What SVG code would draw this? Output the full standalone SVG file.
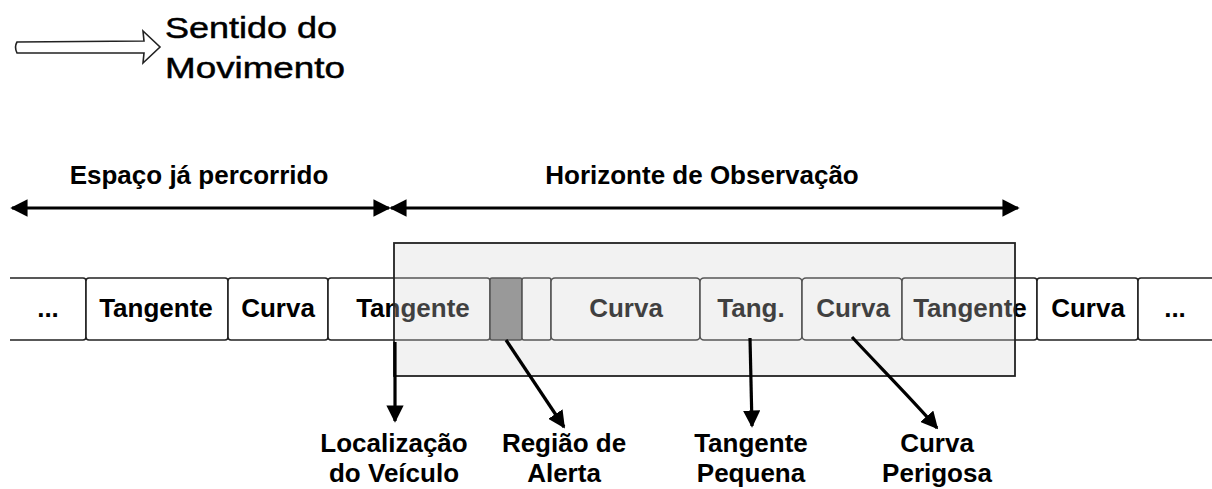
<svg xmlns="http://www.w3.org/2000/svg" width="1212" height="489" viewBox="0 0 1212 489">
<style>
.t{font-family:"Liberation Sans",Arial,sans-serif;font-weight:bold;font-size:26px;fill:#000;text-anchor:middle}
.h{font-family:"Liberation Sans",Arial,sans-serif;font-size:30px;fill:#000;stroke:#000;stroke-width:0.5}
.cell{fill:#fff;stroke:#222;stroke-width:1.6}
.con{fill:none;stroke:#000;stroke-width:3.2}
</style>
<defs>
<marker id="ah" viewBox="0 0 10 10" refX="9" refY="5" markerWidth="5.4" markerHeight="5.4" orient="auto-start-reverse" markerUnits="strokeWidth">
<path d="M0,0 L10,5 L0,10 z" fill="#000"/>
</marker>
</defs>
<rect width="1212" height="489" fill="#fff"/>
<g id="legend">
<path d="M17,42 L144,41 L143,31 L160,47 L143,63 L144,53 L17,53 Q14,47 17,42 z" fill="#fff" stroke="#222" stroke-width="1.6"/>
<text class="h" x="165" y="38" textLength="172" lengthAdjust="spacingAndGlyphs">Sentido do</text>
<text class="h" x="165" y="78" textLength="180" lengthAdjust="spacingAndGlyphs">Movimento</text>
</g>
<g id="espaco">
<text class="t" x="199" y="184">Espaço já percorrido</text>
</g>
<g id="horizonte">
<text class="t" x="702" y="184">Horizonte de Observação</text>
</g>
<g id="road">
<path class="cell" d="M10,278 L83,278 Q86,278 86,281 L86,337 Q86,340 83,340 L10,340"/>
<rect class="cell" x="86" y="278" width="142" height="62" rx="3"/>
<rect class="cell" x="228" y="278" width="100" height="62" rx="3"/>
<rect class="cell" x="328" y="278" width="162" height="62" rx="3"/>
<rect class="cell" x="490" y="278" width="32" height="62" rx="2" style="fill:#808080"/>
<rect class="cell" x="522" y="278" width="29" height="62" rx="2"/>
<rect class="cell" x="551" y="278" width="149" height="62" rx="4"/>
<rect class="cell" x="700" y="278" width="102" height="62" rx="4"/>
<rect class="cell" x="802" y="278" width="100" height="62" rx="4"/>
<rect class="cell" x="902" y="278" width="135" height="62" rx="3"/>
<rect class="cell" x="1037" y="278" width="101" height="62" rx="3"/>
<path class="cell" d="M1212,278 L1141,278 Q1138,278 1138,281 L1138,337 Q1138,340 1141,340 L1212,340"/>
<text class="t" x="48" y="317">...</text>
<text class="t" x="156" y="317">Tangente</text>
<text class="t" x="278" y="317">Curva</text>
<text class="t" x="413" y="317">Tangente</text>
<text class="t" x="626" y="317">Curva</text>
<text class="t" x="751" y="317">Tang.</text>
<text class="t" x="853" y="317">Curva</text>
<text class="t" x="970" y="317">Tangente</text>
<text class="t" x="1088" y="317">Curva</text>
<text class="t" x="1175" y="317">...</text>
</g>
<g id="observacao">
<rect x="394" y="243" width="621" height="133" fill="rgb(213,213,213)" fill-opacity="0.3" stroke="#222" stroke-width="1.8"/>
</g>
<g id="connectors">
<line class="con" x1="12" y1="208" x2="389" y2="208" marker-start="url(#ah)" marker-end="url(#ah)"/>
<line class="con" x1="391" y1="208" x2="1018" y2="208" marker-start="url(#ah)" marker-end="url(#ah)"/>
<line class="con" x1="395" y1="342" x2="395" y2="421" marker-end="url(#ah)"/>
<line class="con" x1="506" y1="340" x2="564" y2="427" marker-end="url(#ah)"/>
<line class="con" x1="750" y1="338" x2="752" y2="426" marker-end="url(#ah)"/>
<path class="con" d="M852,337 C875,362 910,397 937,428" marker-end="url(#ah)"/>
</g>
<g id="lbl-localizacao">
<text class="t" x="394" y="452">Localização</text>
<text class="t" x="394" y="482">do Veículo</text>
</g>
<g id="lbl-regiao">
<text class="t" x="564" y="452">Região de</text>
<text class="t" x="564" y="482">Alerta</text>
</g>
<g id="lbl-tangente">
<text class="t" x="751" y="452">Tangente</text>
<text class="t" x="751" y="482">Pequena</text>
</g>
<g id="lbl-curva">
<text class="t" x="937" y="452">Curva</text>
<text class="t" x="937" y="482">Perigosa</text>
</g>
</svg>
